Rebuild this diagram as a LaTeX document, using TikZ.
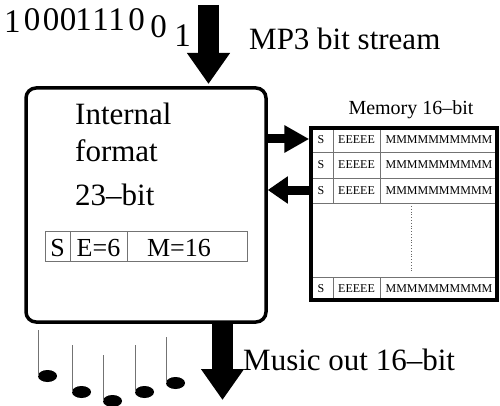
\documentclass[tikz,border=0pt]{standalone}
\usepackage{fontspec}
\setmainfont{Liberation Serif}
\usetikzlibrary{arrows.meta,shapes.geometric}
\begin{document}
\begin{tikzpicture}[x=1pt,y=-1pt,
  big/.style={font=\fontsize{31}{31}\selectfont, inner sep=0pt},
  mid/.style={font=\fontsize{26}{26}\selectfont, inner sep=0pt},
  memlbl/.style={font=\fontsize{20}{20}\selectfont, inner sep=0pt},
  cell/.style={font=\fontsize{12}{12}\selectfont, inner sep=0pt},
  digit/.style={font=\fontsize{33}{33}\selectfont, inner sep=0pt, anchor=base},
  thin/.style={draw=black!55, line width=0.8pt},
  fatdown/.style={line width=21pt, -{Triangle[length=31pt,width=41pt]}},
  fatside/.style={line width=9pt, -{Triangle[length=25pt,width=26pt]}},
  stem/.style={draw=black!55, line width=0.8pt},
  notehead/.style={ellipse, fill=black, minimum width=19pt, minimum height=12pt, inner sep=0pt}
]
\useasboundingbox (0,0) rectangle (500,406);

% main box
\node[draw, line width=3.5pt, rounded corners=10pt, minimum width=240pt, minimum height=234pt, inner sep=0pt] (box) at (146,205) {};
\node[big, anchor=base west] (t1) at (75,125) {Internal};
\node[big, anchor=base west] (t2) at (75,162) {format};
\node[big, anchor=base west] (t3) at (75,205) {23--bit};

% field box
\draw[thin] (45,231) rectangle (247,261);
\draw[thin] (70,231) -- (70,261);
\draw[thin] (127,231) -- (127,261);
\node[mid, anchor=base] (fs) at (57.5,256) {S};
\node[mid, anchor=base] (fe) at (98.5,256) {E=6};
\node[mid, anchor=base] (fm) at (179,256) {M=16};

% bit stream
\node[digit] (d1) at (12.5,33) {1};
\node[digit] (d2) at (32,31) {0};
\node[digit] (d3) at (51,31) {0};
\node[digit] (d4) at (68,31) {0};
\node[digit] (d5) at (83.5,31) {1};
\node[digit] (d6) at (100.5,31) {1};
\node[digit] (d7) at (116.5,31) {1};
\node[digit] (d8) at (136.5,31) {0};
\node[digit] (d9) at (158.5,38) {0};
\node[digit] (d10) at (182.5,47) {1};

\coordinate (instart) at (208.5,5);
\coordinate (inend) at (208.5,84);
\draw[fatdown] (instart) -- (inend);
\node[big, anchor=base west] (mp3) at (249,50) {MP3 bit stream};

% output
\coordinate (outstart) at (222.5,322);
\coordinate (outend) at (222.5,400);
\draw[fatdown] (outstart) -- (outend);
\node[big, anchor=base west] (music) at (243,370) {Music out 16--bit};

% memory table
\node[memlbl, anchor=base] (memt) at (411,115) {Memory 16--bit};
\draw[thin] (311,152) -- (497,152);
\draw[thin] (311,178) -- (497,178);
\draw[thin] (311,203) -- (497,203);
\draw[thin] (311,277) -- (497,277);
\draw[thin] (333,128) -- (333,203);
\draw[thin] (380,128) -- (380,203);
\draw[thin] (333,277) -- (333,300);
\draw[thin] (380,277) -- (380,300);
\draw[black!60, line width=0.8pt, dotted] (411,206) -- (411,271);
\node[draw, line width=3.5pt, minimum width=186pt, minimum height=172pt, inner sep=0pt] (mem) at (404,214) {};
\foreach \y/\n in {140/a,165/b,190.5/c,288.5/d}{
  \node[cell] (s\n) at (321,\y) {S};
  \node[cell] (e\n) at (356.5,\y) {EEEEE};
  \node[cell] (m\n) at (439,\y) {MMMMMMMMMM};
}

% side arrows
\draw[fatside] (box.east |- 0,139) -- (mem.west |- 0,139);
\draw[line width=9pt, -{Triangle[length=20pt,width=26pt]}] (mem.west |- 0,190) -- (box.east |- 0,190);

% notes
\foreach \sx/\st/\hy/\n in {38/330/376/1, 72/345/392/2, 103/355/401/3, 135/345/392/4, 166/337/383/5}{
  \node[notehead] (h\n) at (\sx+9.5,\hy) {};
  \draw[stem] (\sx,\st) -- (\sx,\hy);
}
\end{tikzpicture}
\end{document}
